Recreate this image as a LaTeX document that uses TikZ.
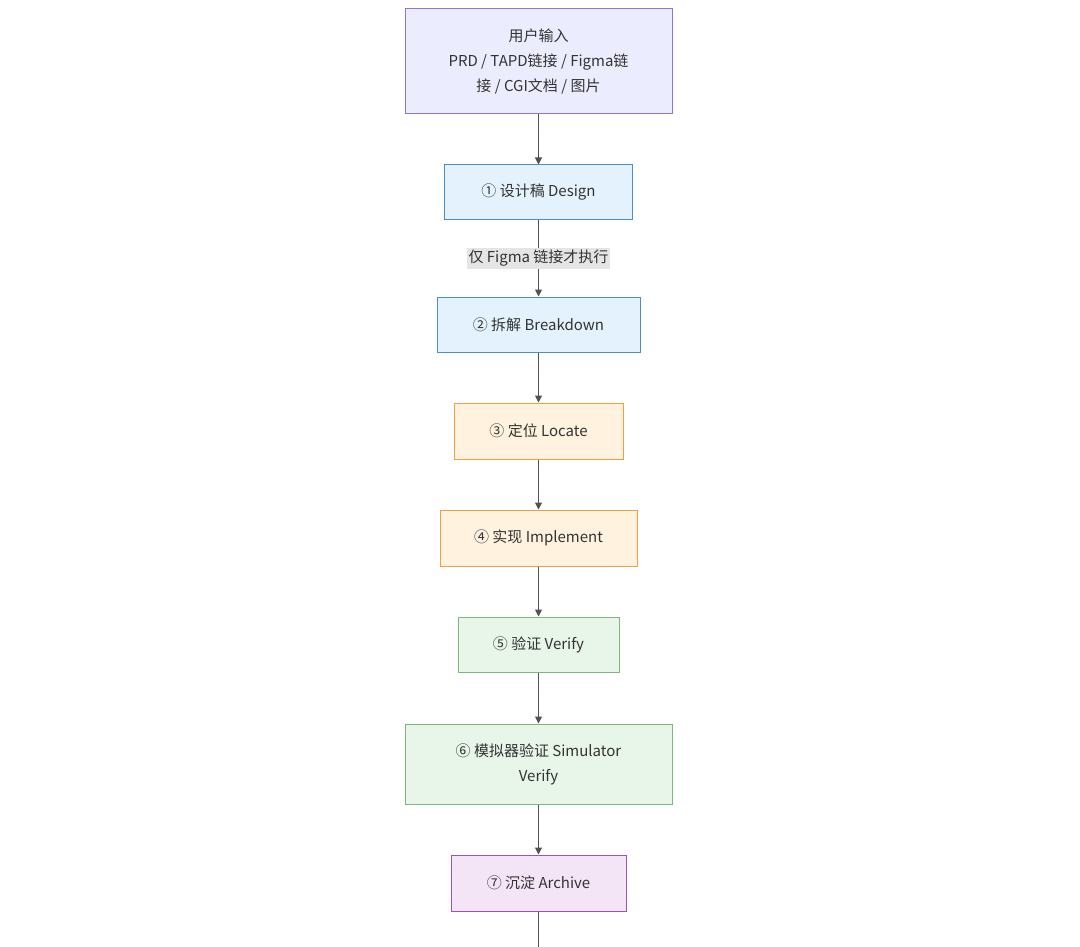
\documentclass[tikz,border=0pt]{standalone}
\usepackage{fontspec}
\setmainfont{Noto Sans CJK SC}
\usetikzlibrary{arrows.meta}
\definecolor{inFill}{HTML}{ECECFF}\definecolor{inLine}{HTML}{9370DB}
\definecolor{blFill}{HTML}{E3F2FD}\definecolor{blLine}{HTML}{4A90C8}
\definecolor{orFill}{HTML}{FFF3E0}\definecolor{orLine}{HTML}{F0A040}
\definecolor{grFill}{HTML}{E8F5E9}\definecolor{grLine}{HTML}{7CB87C}
\definecolor{pkFill}{HTML}{F3E5F5}\definecolor{pkLine}{HTML}{A050B8}
\definecolor{txt}{HTML}{333333}
\tikzset{
	box/.style={draw,line width=1pt,inner sep=0pt,align=center,text=txt,font=\fontsize{15}{25}\selectfont},
	flow/.style={-{Triangle[length=7pt,width=7pt]},line width=1pt,draw=txt!85}
}
\begin{document}
\begin{tikzpicture}[x=1pt,y=-1pt]
	\useasboundingbox (0,0) rectangle (1080,947);
	
	\node[box,fill=inFill,draw=inLine,minimum width=267pt,minimum height=105pt] (input) at (538.5,61.5)
		{用户输入\\PRD / TAPD链接 / Figma链\\接 / CGI文档 / 图片};
	\node[box,fill=blFill,draw=blLine,minimum width=188pt,minimum height=55pt] (design) at (538.5,192.5) {① 设计稿 Design};
	\node[box,fill=blFill,draw=blLine,minimum width=203pt,minimum height=55pt] (breakdown) at (538.5,324.5) {② 拆解 Breakdown};
	\node[box,fill=orFill,draw=orLine,minimum width=169pt,minimum height=56pt] (locate) at (538.5,431) {③ 定位 Locate};
	\node[box,fill=orFill,draw=orLine,minimum width=197pt,minimum height=56pt] (implement) at (538.5,538) {④ 实现 Implement};
	\node[box,fill=grFill,draw=grLine,minimum width=161pt,minimum height=55pt] (verify) at (538.5,644.5) {⑤ 验证 Verify};
	\node[box,fill=grFill,draw=grLine,minimum width=267pt,minimum height=80pt] (sim) at (538.5,764) {⑥ 模拟器验证 Simulator\\Verify};
	\node[box,fill=pkFill,draw=pkLine,minimum width=175pt,minimum height=56pt] (archive) at (538.5,883) {⑦ 沉淀 Archive};
	\coordinate (tail) at (538.5,947);
	
	\draw[flow] (input) -- (design);
	\draw[flow] (design) -- node[fill=black!10,text=txt,inner sep=2pt,font=\fontsize{15}{18}\selectfont] (note) {仅 Figma 链接才执行} (breakdown);
	\draw[flow] (breakdown) -- (locate);
	\draw[flow] (locate) -- (implement);
	\draw[flow] (implement) -- (verify);
	\draw[flow] (verify) -- (sim);
	\draw[flow] (sim) -- (archive);
	\draw[line width=1pt,draw=txt!85] (archive) -- (tail);
\end{tikzpicture}
\end{document}
